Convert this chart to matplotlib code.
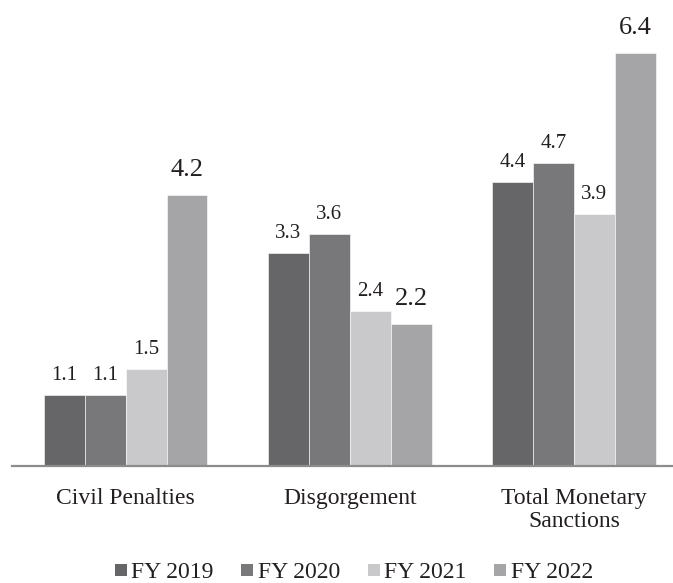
import numpy as np
import matplotlib
matplotlib.use("Agg")
import matplotlib.pyplot as plt
from matplotlib.patches import Patch

plt.rcParams['font.family'] = ['Liberation Serif', 'DejaVu Serif']

categories = ["Civil Penalties", "Disgorgement", "Total Monetary\nSanctions"]
years = ["FY 2019", "FY 2020", "FY 2021", "FY 2022"]
values = {
    "FY 2019": [1.1, 3.3, 4.4],
    "FY 2020": [1.1, 3.6, 4.7],
    "FY 2021": [1.5, 2.4, 3.9],
    "FY 2022": [4.2, 2.2, 6.4],
}
colors = ["#666668", "#78787b", "#c9c9cb", "#a5a5a8"]
text_color = "#231f20"

fig = plt.figure(figsize=(6.73, 5.83), dpi=100)
ax = fig.add_axes([12 / 673, 1 - 466 / 583, 661 / 673, 466 / 583])

x = np.arange(len(categories))
w = 0.1825
for i, (yr, c) in enumerate(zip(years, colors)):
    pos = x + (i - 1.5) * w
    ax.bar(pos, values[yr], width=w, color=c, edgecolor="white", linewidth=0.4)
    big = (yr == "FY 2022")
    for p, v in zip(pos, values[yr]):
        ax.text(p, v + (0.295 if big else 0.233), f"{v:.1f}", ha="center", va="baseline",
                fontsize=19 if big else 15, color=text_color)

ax.set_xlim(-0.507, 2.442)
ax.set_ylim(0, 466 / 64.5)
for s in ["top", "right", "left"]:
    ax.spines[s].set_visible(False)
ax.spines["bottom"].set_color("#8c8c8c")
ax.spines["bottom"].set_linewidth(1.6)
ax.set_yticks([])
ax.set_xticks(x)
ax.set_xticklabels(categories, fontsize=17, color=text_color, linespacing=1.1)
ax.tick_params(axis="x", length=0, pad=16)

handles = [Patch(facecolor=c, edgecolor="none") for c in colors]
fig.legend(handles, years, loc="center", bbox_to_anchor=(0.526, 1 - 573 / 583), ncol=4,
           frameon=False, fontsize=17, handlelength=0.5, handleheight=0.45,
           handletextpad=0.2, columnspacing=1.17, labelcolor=text_color,
           borderpad=0.0)

fig.savefig("out.png", dpi=100)
